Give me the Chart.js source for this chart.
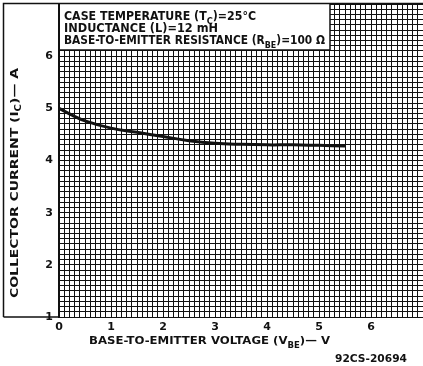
<!DOCTYPE html>
<html>
<head>
<meta charset="utf-8">
<script src="https://cdn.jsdelivr.net/npm/chart.js@4.4.1/dist/chart.umd.min.js"></script>
<style>
html,body{margin:0;padding:0;background:#fff;}
#wrap{width:423px;height:366px;}
</style>
</head>
<body>
<div id="wrap"><canvas id="chart"></canvas></div>
<script>
// values
const vbe = [0, 0.25, 0.5, 1, 1.5, 2, 2.5, 3, 3.5, 4, 4.5, 5, 5.5];
const ic = [5.0, 4.87, 4.76, 4.62, 4.54, 4.46, 4.38, 4.33, 4.31, 4.30, 4.30, 4.29, 4.28];
const xRange = [0, 7];
const yRange = [1, 7];
const xTickLabels = [0, 1, 2, 3, 4, 5, 6];
const yTickLabels = [1, 2, 3, 4, 5, 6];

const INK = "#111";
const FONT = '"DejaVu Sans"';

function isLabel(v, list){
  return list.some(t => Math.abs(t - v) < 1e-6);
}

// draws text pieces (with subscripts) squeezed/stretched to a given width
function drawRun(ctx, parts, x, y, width, size, angle){
  const big = `bold ${size}px ${FONT}`;
  const small = `bold ${Math.round(size*0.72)}px ${FONT}`;
  ctx.save();
  ctx.translate(x, y);
  if (angle) ctx.rotate(angle);
  ctx.textAlign = "left";
  ctx.textBaseline = "alphabetic";
  ctx.fillStyle = INK;
  let total = 0;
  parts.forEach(p => { ctx.font = p.sub ? small : big; total += ctx.measureText(p.t).width; });
  ctx.scale(width/total, 1);
  let cx = 0;
  parts.forEach(p => {
    ctx.font = p.sub ? small : big;
    ctx.fillText(p.t, cx, p.sub ? size*0.32 : 0);
    cx += ctx.measureText(p.t).width;
  });
  ctx.restore();
}

const decor = {
  id: "decor",
  afterDraw(chart){
    const ctx = chart.ctx;
    const a = chart.chartArea;
    ctx.save();
    // note box
    ctx.fillStyle = "#fff";
    ctx.fillRect(a.left+1, a.top, 270, 46);
    ctx.strokeStyle = INK;
    ctx.lineWidth = 1.5;
    ctx.beginPath();
    ctx.moveTo(a.left+271, a.top);
    ctx.lineTo(a.left+271, a.top+46);
    ctx.lineTo(a.left, a.top+46);
    ctx.stroke();
    // outer frame
    ctx.beginPath();
    ctx.moveTo(3.5, a.bottom);
    ctx.lineTo(3.5, 3.5);
    ctx.lineTo(423, 3.5);
    ctx.moveTo(3.5, a.bottom);
    ctx.lineTo(a.left, a.bottom);
    ctx.stroke();
    ctx.restore();

    drawRun(ctx, [{t:"CASE TEMPERATURE (T"},{t:"C",sub:1},{t:")=25°C"}], 64, 20, 192, 12);
    drawRun(ctx, [{t:"INDUCTANCE (L)=12 mH"}], 64, 32, 154, 12);
    drawRun(ctx, [{t:"BASE-TO-EMITTER RESISTANCE (R"},{t:"BE",sub:1},{t:")=100 Ω"}], 64, 44, 261, 12);
    drawRun(ctx, [{t:"COLLECTOR CURRENT (I"},{t:"C",sub:1},{t:")— A"}], 17.5, 298, 230, 11, -Math.PI/2);
    drawRun(ctx, [{t:"BASE-TO-EMITTER VOLTAGE (V"},{t:"BE",sub:1},{t:")— V"}], 89, 344, 241, 11);
    drawRun(ctx, [{t:"92CS-20694"}], 335, 362, 72, 11);
  }
};

new Chart(document.getElementById("chart"), {
  type: "line",
  data: {
    datasets: [{
      data: vbe.map((v, i) => ({x: v, y: ic[i]})),
      borderColor: INK,
      borderWidth: 3,
      pointRadius: 0,
      tension: 0.4,
      fill: false
    }]
  },
  options: {
    responsive: true,
    maintainAspectRatio: false,
    animation: false,
    layout: {padding: {top: 4, left: 0, right: 0, bottom: 0}},
    plugins: {legend: {display: false}, tooltip: {enabled: false}},
    scales: {
      x: {
        type: "linear",
        min: xRange[0], max: xRange[1],
        afterFit(s){ s.height = 49; s.paddingLeft = 0; s.paddingRight = 0; },
        grid: {color: INK, lineWidth: 1, drawTicks: false},
        border: {color: INK, width: 1},
        ticks: {
          stepSize: 0.1, autoSkip: false, maxRotation: 0, padding: 4,
          color: INK, font: {family: "DejaVu Sans", weight: "bold", size: 11},
          callback: v => isLabel(v, xTickLabels) ? String(Math.round(v)) : ""
        }
      },
      y: {
        min: yRange[0], max: yRange[1],
        afterFit(s){ s.width = 59; s.paddingTop = 0; s.paddingBottom = 0; },
        grid: {color: INK, lineWidth: 1, drawTicks: false},
        border: {color: INK, width: 1.5},
        ticks: {
          stepSize: 0.1, autoSkip: false, padding: 6,
          color: INK, font: {family: "DejaVu Sans", weight: "bold", size: 11},
          callback: v => isLabel(v, yTickLabels) ? String(Math.round(v)) : ""
        }
      }
    }
  },
  plugins: [decor]
});
</script>
</body>
</html>
